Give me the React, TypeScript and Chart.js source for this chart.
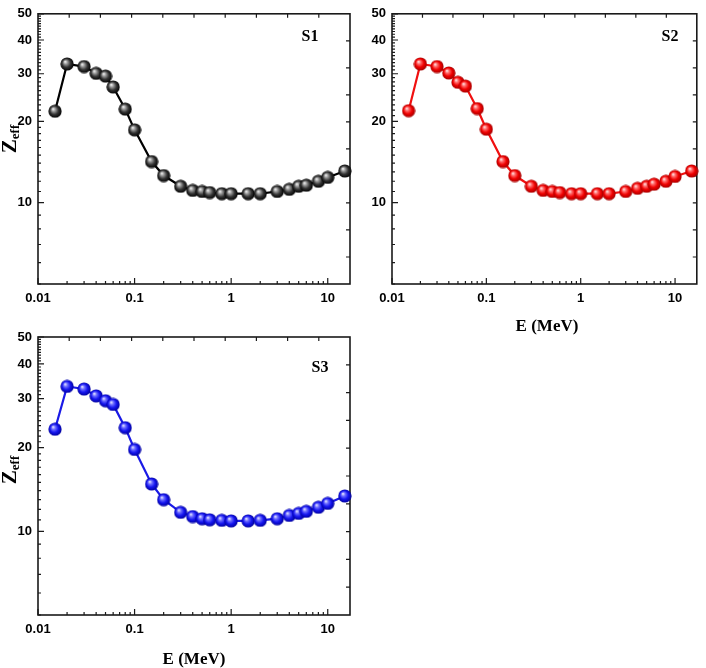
import { useEffect, useRef } from "react";
import { Chart, registerables } from "chart.js";

Chart.register(...registerables);

// photon energy (MeV)
const energies = [
  0.015, 0.02, 0.03, 0.04, 0.05, 0.06, 0.08, 0.1, 0.15, 0.2, 0.3, 0.4, 0.5,
  0.6, 0.8, 1, 1.5, 2, 3, 4, 5, 6, 8, 10, 15,
];

// effective atomic number per sample
const zeffS1 = [
  21.8, 32.6, 31.9, 30.1, 29.4, 26.8, 22.2, 18.6, 14.2, 12.6, 11.5, 11.1, 11.0,
  10.9, 10.8, 10.8, 10.8, 10.8, 11.0, 11.2, 11.5, 11.6, 12.0, 12.4, 13.1,
];
const zeffS2 = [
  21.9, 32.6, 31.9, 30.2, 27.9, 27.0, 22.3, 18.7, 14.2, 12.6, 11.5, 11.1, 11.0,
  10.9, 10.8, 10.8, 10.8, 10.8, 11.0, 11.3, 11.5, 11.7, 12.0, 12.5, 13.1,
];
const zeffS3 = [
  23.3, 33.2, 32.5, 30.7, 29.5, 28.6, 23.6, 19.7, 14.8, 13.0, 11.7, 11.3, 11.1,
  11.0, 10.95, 10.9, 10.9, 10.95, 11.1, 11.4, 11.6, 11.8, 12.2, 12.6, 13.4,
];

const xTicks = [0.01, 0.1, 1, 10];
const yTicks = [10, 20, 30, 40, 50];

const tickFont = { family: "'Liberation Sans', Arial, sans-serif", size: 13, weight: "bold" as const };
const serif = "'Liberation Serif', 'Times New Roman', serif";

type Box = { left: number; top: number; right: number; bottom: number };

type PanelProps = {
  values: number[];
  label: string;
  line: string;
  stops: [number, string][];
  pos: { x: number; y: number; w: number; h: number };
  area: Box;
  tag: { x: number; y: number };
  xTitle?: { x: number; y: number };
  yTitle?: { x: number; y: number };
};

function sphere(stops: [number, string][]) {
  const c = document.createElement("canvas");
  c.width = 14;
  c.height = 14;
  const g = c.getContext("2d")!;
  const grad = g.createRadialGradient(5, 4.7, 0.3, 7, 7, 6.8);
  stops.forEach(([o, col]) => grad.addColorStop(o, col));
  g.fillStyle = grad;
  g.beginPath();
  g.arc(7, 7, 6.6, 0, Math.PI * 2);
  g.fill();
  return c;
}

function Panel(p: PanelProps) {
  const ref = useRef<HTMLCanvasElement | null>(null);

  useEffect(() => {
    if (!ref.current) return;
    const ctx = ref.current.getContext("2d");
    if (!ctx) return;

    const frame = {
      id: "frame",
      beforeDatasetsDraw(chart: any) {
        const { left, right, top, bottom } = chart.chartArea;
        const xs = chart.scales.x;
        const ys = chart.scales.y;
        const c = chart.ctx;
        c.save();
        c.strokeStyle = "#1a1a1a";
        c.lineWidth = 1.2;
        c.beginPath();
        // bottom: log majors + minors
        for (const d of xTicks) {
          for (let m = 1; m <= 9; m++) {
            const v = d * m;
            if (v > xs.max) break;
            const px = xs.getPixelForValue(v);
            const len = m === 1 ? 6 : 3;
            c.moveTo(px, bottom);
            c.lineTo(px, bottom - len);
          }
        }
        // left: every integer
        for (let v = 5; v <= 50; v++) {
          const py = ys.getPixelForValue(v);
          const len = v % 10 === 0 ? 6 : 3;
          c.moveTo(left, py);
          c.lineTo(left + len, py);
        }
        // top / right: evenly spaced ticks
        for (let i = 1; i <= 9; i++) {
          const px = left + ((right - left) * i) / 10;
          c.moveTo(px, top);
          c.lineTo(px, top + 4);
          const py = top + ((bottom - top) * i) / 10;
          c.moveTo(right, py);
          c.lineTo(right - 4, py);
        }
        c.stroke();
        c.lineWidth = 1.6;
        c.strokeRect(left, top, right - left, bottom - top);
        c.restore();
      },
      afterDraw(chart: any) {
        const c = chart.ctx;
        c.save();
        c.fillStyle = "#000";
        c.textAlign = "center";
        c.textBaseline = "middle";
        c.font = `bold 16px ${serif}`;
        c.fillText(p.label, p.tag.x, p.tag.y);
        if (p.xTitle) {
          c.font = `bold 17px ${serif}`;
          c.fillText("E (MeV)", p.xTitle.x, p.xTitle.y);
        }
        if (p.yTitle) {
          c.translate(p.yTitle.x, p.yTitle.y);
          c.rotate(-Math.PI / 2);
          c.textAlign = "left";
          c.textBaseline = "alphabetic";
          c.font = `bold 21px ${serif}`;
          const zw = c.measureText("Z").width;
          c.font = `bold 13px ${serif}`;
          const ew = c.measureText("eff").width;
          const start = -(zw + ew) / 2;
          c.font = `bold 21px ${serif}`;
          c.fillText("Z", start, 0);
          c.font = `bold 13px ${serif}`;
          c.fillText("eff", start + zw, 3);
        }
        c.restore();
      },
    };

    const a = p.area;
    const chart = new Chart(ctx, {
      type: "line",
      data: {
        datasets: [
          {
            data: energies.map((e, i) => ({ x: e, y: p.values[i] })),
            borderColor: p.line,
            borderWidth: 2.2,
            pointStyle: sphere(p.stops) as any,
            pointRadius: 7,
            clip: false as any,
          },
        ],
      },
      options: {
        animation: false,
        responsive: false,
        events: [],
        layout: { padding: { left: 0, top: a.top, right: p.pos.w - a.right, bottom: 0 } },
        plugins: { legend: { display: false }, tooltip: { enabled: false } },
        scales: {
          x: {
            type: "logarithmic",
            min: 0.01,
            max: 17,
            grid: { display: false, drawTicks: false },
            border: { display: false },
            afterBuildTicks: (s: any) => {
              s.ticks = xTicks.map((v) => ({ value: v }));
            },
            afterFit: (s: any) => {
              s.height = p.pos.h - a.bottom;
            },
            ticks: {
              color: "#000",
              font: tickFont,
              padding: 7,
              maxRotation: 0,
              autoSkip: false,
              callback: (v: any) => String(v),
            },
          },
          y: {
            type: "logarithmic",
            min: 5,
            max: 50,
            grid: { display: false, drawTicks: false },
            border: { display: false },
            afterBuildTicks: (s: any) => {
              s.ticks = yTicks.map((v) => ({ value: v }));
            },
            afterFit: (s: any) => {
              s.width = a.left;
            },
            ticks: {
              color: "#000",
              font: tickFont,
              padding: 6,
              autoSkip: false,
              callback: (v: any) => String(v),
            },
          },
        },
      },
      plugins: [frame],
    });

    return () => chart.destroy();
  }, []);

  return (
    <canvas
      ref={ref}
      width={p.pos.w}
      height={p.pos.h}
      style={{ position: "absolute", left: p.pos.x, top: p.pos.y, width: p.pos.w, height: p.pos.h }}
    />
  );
}

const blackStops: [number, string][] = [[0, "#f2f2f2"], [0.25, "#9a9a9a"], [0.6, "#333"], [1, "#000"]];
const redStops: [number, string][] = [[0, "#ffe4e4"], [0.25, "#ff6a6a"], [0.6, "#f00000"], [1, "#a00000"]];
const blueStops: [number, string][] = [[0, "#e8e8ff"], [0.25, "#7070ff"], [0.6, "#1515f0"], [1, "#00009a"]];

export default function App() {
  return (
    <div style={{ position: "absolute", left: 0, top: 0, width: 706, height: 668, background: "#fff" }}>
      <Panel
        values={zeffS1}
        label="S1"
        line="#000"
        stops={blackStops}
        pos={{ x: 0, y: 0, w: 360, h: 312 }}
        area={{ left: 38, top: 6, right: 350, bottom: 284 }}
        tag={{ x: 310, y: 37 }}
        yTitle={{ x: 16, y: 139 }}
      />
      <Panel
        values={zeffS2}
        label="S2"
        line="#f01010"
        stops={redStops}
        pos={{ x: 350, y: 0, w: 356, h: 340 }}
        area={{ left: 42, top: 6, right: 355, bottom: 284 }}
        tag={{ x: 320, y: 37 }}
        xTitle={{ x: 197, y: 327 }}
      />
      <Panel
        values={zeffS3}
        label="S3"
        line="#1a1ae6"
        stops={blueStops}
        pos={{ x: 0, y: 320, w: 360, h: 348 }}
        area={{ left: 38, top: 17, right: 350, bottom: 295 }}
        tag={{ x: 320, y: 48 }}
        xTitle={{ x: 194, y: 340 }}
        yTitle={{ x: 16, y: 150 }}
      />
    </div>
  );
}
